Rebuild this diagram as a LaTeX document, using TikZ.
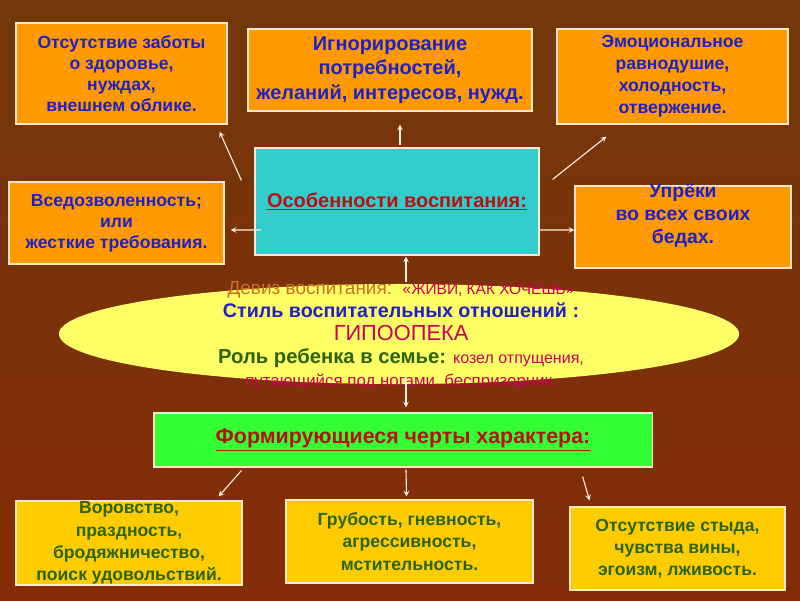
\documentclass[tikz,border=0pt]{standalone}
\usepackage{fontspec}
\setmainfont{Liberation Sans}
\usetikzlibrary{shapes.geometric,arrows,positioning,calc}
\definecolor{bgtop}{HTML}{72380A}
\definecolor{bgmid}{HTML}{B0580E}
\definecolor{bgbot}{HTML}{842C08}
\definecolor{boxorange}{HTML}{FF9900}
\definecolor{boxline}{HTML}{FFE6CC}
\definecolor{txtblue}{HTML}{2020C8}
\definecolor{boxcyan}{HTML}{33CCCC}
\definecolor{txtred}{HTML}{B81010}
\definecolor{ovalyellow}{HTML}{FFFF66}
\definecolor{boxgreen}{HTML}{33FF33}
\definecolor{boxyellow}{HTML}{FFCC00}
\definecolor{txtgreen}{HTML}{2E6400}
\definecolor{txtcrimson}{HTML}{CC0055}
\definecolor{txtmotto}{HTML}{CC7020}
\definecolor{linkcol}{HTML}{FFEEE4}

\begin{document}
\begin{tikzpicture}[x=0.025cm, y=-0.025cm, >=stealth,
    obox/.style={rectangle, draw=boxline, line width=0.8pt, fill=boxorange, align=center,
        inner sep=0pt, text=txtblue, font=\bfseries\fontsize{12.5}{14.8}\selectfont},
    ybox/.style={rectangle, draw=boxline, line width=0.8pt, fill=boxyellow, align=center,
        inner sep=0pt, text=txtgreen, font=\bfseries\fontsize{12.5}{15.8}\selectfont},
    link/.style={->, draw=linkcol, line width=0.8pt}]

    % background
    \fill[top color=bgtop, middle color=bgmid, bottom color=bgbot] (0,0) rectangle (800,600);

    % upper boxes
    \node[obox, minimum width=5.275cm, minimum height=2.525cm] (neglect) at (121.5,73.5)
        {Отсутствие заботы\\о здоровье,\\нуждах,\\внешнем облике.};
    \node[obox, minimum width=7.1cm, minimum height=2.05cm,
          font=\bfseries\fontsize{14.2}{17.3}\selectfont] (ignore) at (390,70)
        {Игнорирование\\потребностей,\\желаний, интересов, нужд.};
    \node[obox, minimum width=5.775cm, minimum height=2.375cm,
          font=\bfseries\fontsize{12.5}{15.6}\selectfont] (emotion) at (672.5,76.5)
        {Эмоциональное\\равнодушие,\\холодность,\\отвержение.};
    \node[obox, minimum width=5.375cm, minimum height=2.05cm] (permissive) at (116.5,223)
        {Вседозволенность;\\или\\жесткие требования.};
    \node[obox, minimum width=5.4cm, minimum height=2.05cm] (reproach) at (683,227) {};
    \node[align=center, text=txtblue, font=\bfseries\fontsize{13.8}{16.5}\selectfont] (reproachtxt)
        at (683,216) {Упрёки\\во всех своих\\бедах.};

    % centre
    \node[rectangle, draw=boxline, line width=0.8pt, fill=boxcyan, minimum width=7.1cm,
          minimum height=2.675cm, text=txtred, font=\bfseries\fontsize{14.2}{16}\selectfont]
        (features) at (397,201.5) {\underline{Особенности воспитания:}};

    % oval
    \node[ellipse, fill=ovalyellow, minimum width=17cm, minimum height=2.5cm] (style) at (399,334) {};
    \node[align=center, inner sep=0pt, font=\fontsize{13.5}{16.3}\selectfont] (styletxt) at (401,336)
        {{\color{txtmotto}Девиз воспитания:}\ \ {\color{txtcrimson}\fontsize{11}{12}\selectfont«ЖИВИ, КАК ХОЧЕШЬ»}\\
         {\color{txtblue}\bfseries\fontsize{14}{16.3}\selectfont Стиль воспитательных отношений :}\\
         {\color{txtcrimson}\fontsize{15.5}{16.3}\selectfont ГИПООПЕКА}\\
         {\color{txtgreen}\bfseries\fontsize{14.4}{16.3}\selectfont Роль ребенка в семье:} {\color{txtcrimson}\fontsize{11.4}{12}\selectfont козел отпущения,}\\
         {\color{txtcrimson}\fontsize{12}{12}\selectfont путающийся под ногами, беспризорник.}};

    % traits
    \node[rectangle, draw=boxline, line width=0.8pt, fill=boxgreen, minimum width=12.45cm,
          minimum height=1.35cm, text=txtred, font=\bfseries\fontsize{15.2}{16}\selectfont]
        (traits) at (403,440) {\underline{Формирующиеся черты характера:}};

    % lower boxes
    \node[ybox, minimum width=5.65cm, minimum height=2.1cm] (theft) at (129,543)
        {Воровство,\\праздность,\\бродяжничество,\\поиск удовольствий.};
    \node[ybox, minimum width=6.175cm, minimum height=2.075cm] (rude) at (409.5,541.5)
        {Грубость, гневность,\\агрессивность,\\мстительность.};
    \node[ybox, minimum width=5.375cm, minimum height=2.075cm] (shame) at (677.5,548.5)
        {Отсутствие стыда,\\чувства вины,\\эгоизм, лживость.};

    % connectors
    \draw[link] ($(features.north west)+(-13,33)$) -- ($(neglect.south east)+(-8,7)$);
    \draw[link] ($(features.north)+(3,-2)$) -- ($(ignore.south)+(10,13)$);
    \draw[link] ($(features.north east)+(13,32)$) -- ($(emotion.south west)+(50,12)$);
    \draw[link] ($(features.west)+(7,28.5)$) -- ($(permissive.east)+(6,7)$);
    \draw[link] ($(features.east)+(0,28.5)$) -- ($(reproach.west)+(0,3)$);
    \draw[link] ($(style.north)+(7,-2)$) -- ($(features.south)+(9,1)$);
    \draw[link] ($(style.south)+(7,-8)$) -- ($(traits.north)+(3,-5)$);
    \draw[link] ($(traits.south west)+(88,3)$) -- ($(theft.north east)+(-24,-4)$);
    \draw[link] ($(traits.south)+(3,2)$) -- ($(rude.north)+(-3,-3)$);
    \draw[link] ($(traits.south east)+(-70,9)$) -- ($(shame.north)+(-88,-6)$);
\end{tikzpicture}
\end{document}
